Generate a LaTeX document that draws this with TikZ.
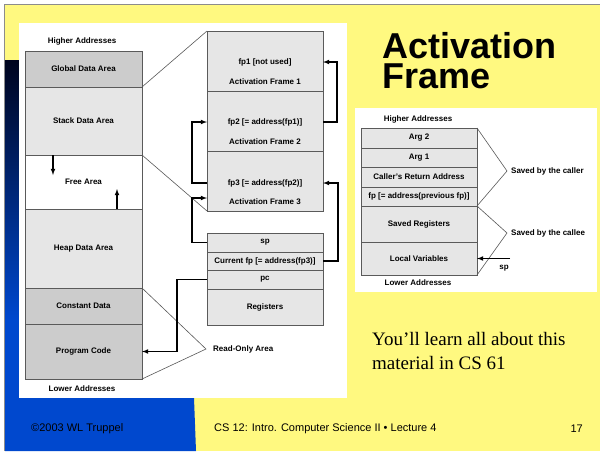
\documentclass[tikz,border=0pt]{standalone}
\usepackage{fontspec}
\setmainfont{Liberation Sans}
\newfontfamily\timesfont{Liberation Serif}
\usepackage{tikz}
\usetikzlibrary{arrows}
\definecolor{slideyellow}{RGB}{255,249,128}
\definecolor{slideblue}{RGB}{0,72,206}
\definecolor{slidenavy}{RGB}{0,4,30}
\definecolor{cellgray}{RGB}{230,230,230}
\definecolor{darkcell}{RGB}{204,204,204}
\definecolor{rulegray}{RGB}{90,90,90}
\newcommand\lblfont{\fontsize{8}{9.5}\selectfont\bfseries}
\tikzset{
  cell/.style={draw=rulegray,line width=0.8pt,fill=cellgray,inner sep=0pt,outer sep=0pt,anchor=north west,font=\lblfont},
  dcell/.style={cell,fill=darkcell},
  lbl/.style={inner sep=0pt,font=\lblfont},
  ptr/.style={-latex,line width=1.1pt,black},
  zoomline/.style={line width=0.6pt,black!65},
  foot/.style={inner sep=0pt,font=\fontsize{11}{13}\selectfont}
}

\begin{document}
\begin{tikzpicture}[x=1pt,y=-1pt]
\useasboundingbox (0,0) rectangle (600,451);
\fill[white] (0,0) rectangle (600,451);
\fill[slideyellow] (5,5) rectangle (600,451);
\draw[black!45,line width=1pt] (4.5,451) -- (4.5,4.5) -- (600,4.5);
\shade[top color=slidenavy,bottom color=slideblue] (5,60) rectangle (194,320);
\fill[slideblue] (5,319.5) -- (194,319.5) -- (194,398) -- (196,451) -- (5,451) -- cycle;
\fill[white] (19,23) rectangle (347,398);
\fill[white] (355,108) rectangle (597,292);

% memory layout
\node[lbl] (hiL) at (82,41) {Higher Addresses};
\node[dcell,minimum width=117pt,minimum height=36pt] (global) at (25,51) {Global Data Area};
\node[cell,minimum width=117pt,minimum height=68pt] (stack) at (25,87) {Stack Data Area};
\node[cell,fill=white,minimum width=117pt,minimum height=54pt] (free) at (25,155) {Free Area};
\node[cell,minimum width=117pt,minimum height=79pt] (heap) at (25,209) {Heap Data Area};
\node[dcell,minimum width=117pt,minimum height=36pt] (const) at (25,288) {Constant Data};
\node[dcell,minimum width=117pt,minimum height=55pt] (prog) at (25,324) {Program Code};
\node[lbl] (loL) at (82,389) {Lower Addresses};
\draw[ptr] ([xshift=28pt]free.north west) -- ++(0,20);
\draw[ptr] ([xshift=-25pt]free.south east) -- ++(0,-20);

% activation frames
\node[cell,minimum width=116pt,minimum height=60pt] (fr1) at (207,31) {};
\node[cell,minimum width=116pt,minimum height=60pt] (fr2) at (207,91) {};
\node[cell,minimum width=116pt,minimum height=60pt] (fr3) at (207,151) {};
\node[lbl] (fp1) at (265,62) {fp1 [not used]};
\node[lbl] (af1) at (265,82) {Activation Frame 1};
\node[lbl] (fp2) at (265,122) {fp2 [= address(fp1)]};
\node[lbl] (af2) at (265,142) {Activation Frame 2};
\node[lbl] (fp3) at (265,183) {fp3 [= address(fp2)]};
\node[lbl] (af3) at (265,202) {Activation Frame 3};

% registers
\node[cell,minimum width=116pt,minimum height=19pt] (sp) at (207,233) {sp};
\node[cell,minimum width=116pt,minimum height=18pt] (curfp) at (207,252) {Current fp [= address(fp3)]};
\node[cell,minimum width=116pt,minimum height=19pt] (pc) at (207,270) {pc};
\node[cell,minimum width=116pt,minimum height=36pt] (regs) at (207,289) {Registers};

\draw[zoomline] (global.south east) -- (fr1.north west);
\draw[zoomline] (stack.south east) -- (fr3.south west);
\node[lbl,anchor=west,inner xsep=7pt] (ro) at (206,349) {Read-Only Area};
\draw[zoomline] (const.north east) -- (ro.west) -- (prog.south east);

\draw[ptr] (fr2.east |- fp2) -- ++(14,0) |- (fr1.east |- fp1);
\draw[ptr] (fr3.west |- fp3) -- ++(-15,0) |- (fr2.west |- fp2);
\draw[ptr] (sp.west) -- ++(-15,0) |- ([yshift=13pt]fr3.south west);
\draw[ptr] (curfp.east) -- ++(15,0) |- (fr3.east |- fp3);
\draw[ptr] (pc.west) -- ++(-30,0) |- (prog.east);

% title and note
\node[anchor=north west,inner sep=0pt,align=left,font=\fontsize{36}{30}\selectfont\bfseries] (title) at (382,32) {Activation\\Frame};
\node[anchor=north west,inner sep=0pt,align=left,font=\timesfont\fontsize{19}{24}\selectfont] (note) at (372,332) {You’ll learn all about this\\material in CS 61};

% one frame
\node[lbl] (hiR) at (418,119) {Higher Addresses};
\node[cell,minimum width=116pt,minimum height=20pt] (arg2) at (361,128) {Arg 2};
\node[cell,minimum width=116pt,minimum height=19pt] (arg1) at (361,148) {Arg 1};
\node[cell,minimum width=116pt,minimum height=20pt] (ret) at (361,167) {Caller's Return Address};
\node[cell,minimum width=116pt,minimum height=19pt] (fpr) at (361,187) {fp [= address(previous fp)]};
\node[cell,minimum width=116pt,minimum height=36pt] (saved) at (361,206) {Saved Registers};
\node[cell,minimum width=116pt,minimum height=33pt] (local) at (361,242) {Local Variables};
\node[lbl] (loR) at (418,283) {Lower Addresses};
\node[lbl,anchor=west,inner xsep=4pt] (caller) at (507,171) {Saved by the caller};
\draw[zoomline] (arg2.north east) -- (caller.west) -- (fpr.south east);
\node[lbl,anchor=west,inner xsep=4pt] (callee) at (507,233) {Saved by the callee};
\draw[zoomline] (saved.north east) -- (callee.west) -- (local.south east);
\node[lbl] (spR) at (504,268) {sp};
\coordinate (spTail) at (510,258.5);
\draw[ptr] (spTail) -- (local.east);

% footer
\node[foot,anchor=west] (copy) at (31,429) {©2003 WL Truppel};
\node[foot,anchor=west] (course) at (214,429) {CS 12: Intro. Computer Science II • Lecture 4};
\node[foot,anchor=east] (page) at (583,429) {17};
\end{tikzpicture}
\end{document}
